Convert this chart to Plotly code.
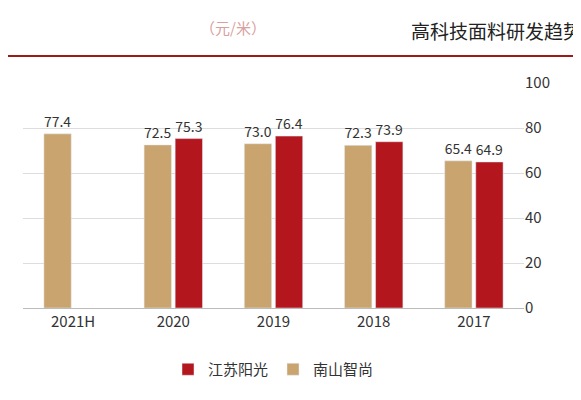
import plotly.graph_objects as go

years = ["2021H", "2020", "2019", "2018", "2017"]
nanshan = [77.4, 72.5, 73.0, 72.3, 65.4]
jiangsu = [None, 75.3, 76.4, 73.9, 64.9]

fig = go.Figure()
fig.add_trace(go.Bar(x=years, y=nanshan, name="南山智尚", marker_color="#C9A46E",
                     text=[f"{v:.1f}" for v in nanshan], textposition="outside",
                     textfont=dict(size=14, color="#333")))
fig.add_trace(go.Bar(x=years, y=jiangsu, name="江苏阳光", marker_color="#B3171D",
                     text=["" if v is None else f"{v:.1f}" for v in jiangsu], textposition="outside",
                     textfont=dict(size=14, color="#333")))

fig.update_layout(
    width=581, height=400, barmode="group", bargap=0.38, bargroupgap=0.12,
    plot_bgcolor="white", paper_bgcolor="white",
    margin=dict(l=15, r=65, t=75, b=100),
    font=dict(family="Noto Sans CJK SC", size=15, color="#333"),
    legend=dict(orientation="h", x=0.5, xanchor="center", y=-0.2, traceorder="reversed"),
    xaxis=dict(showline=True, linecolor="#bbb"),
    yaxis=dict(side="right", range=[0, 100], dtick=20, gridcolor="#ddd", zeroline=False),
    shapes=[dict(type="line", xref="paper", yref="paper", x0=-0.03, x1=1.12, y0=1.12, y1=1.12,
                 line=dict(color="#9B1B1B", width=2))],
    annotations=[
        dict(text="（元/米）", xref="paper", yref="paper", x=0.42, y=1.3, showarrow=False,
             font=dict(size=15, color="#d9a0a0")),
        dict(text="高科技面料研发趋势", xref="paper", yref="paper", x=1.12, y=1.3, xanchor="right",
             showarrow=False, font=dict(size=19, color="#222")),
    ],
)

fig.write_html("out.html")
